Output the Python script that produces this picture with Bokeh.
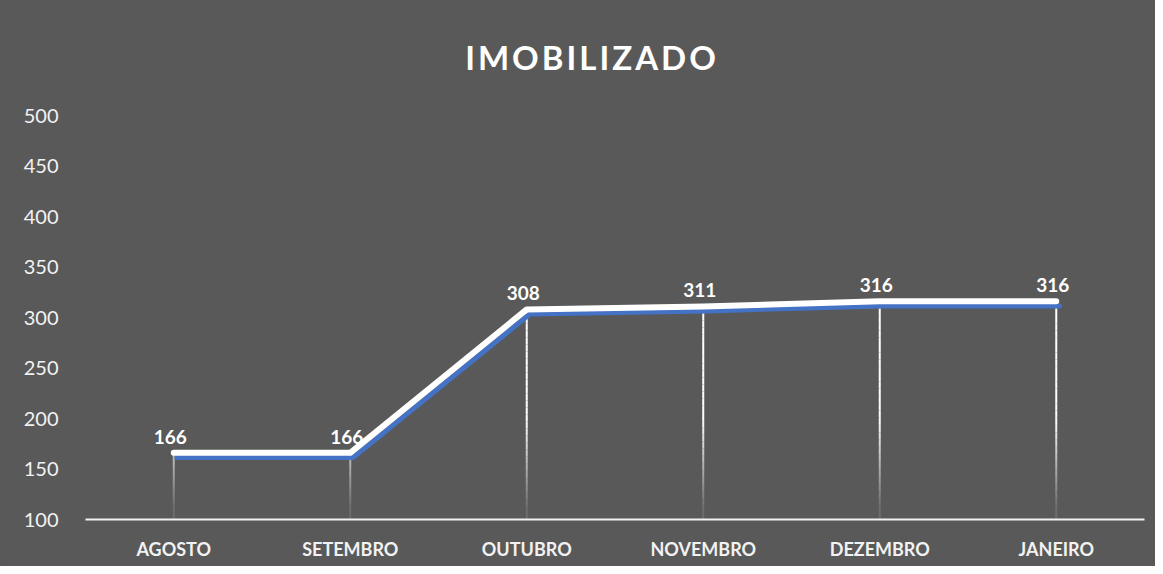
from bokeh.plotting import figure
from bokeh.models import ColumnDataSource, Range1d, FactorRange, Div
from bokeh.layouts import column
from bokeh.transform import dodge
from bokeh.embed import file_html
from bokeh.resources import INLINE
import numpy as np

months = ["AGOSTO", "SETEMBRO", "OUTUBRO", "NOVEMBRO", "DEZEMBRO", "JANEIRO"]
values = [166, 166, 308, 311, 316, 316]
labels = ["166", "166", "308", "311", "316", "316"]
y_ticks = [100, 150, 200, 250, 300, 350, 400, 450, 500]
title_text = "IMOBILIZADO"

BG = "#595959"
BLUE = "#4472C4"
FONT = "Lato"

title = Div(text=title_text, width=1155, height=90, margin=0,
            styles={"background-color": BG, "color": "#ffffff", "font-family": FONT,
                    "font-size": "33px", "font-weight": "bold", "letter-spacing": "3px",
                    "text-align": "center", "text-indent": "29px", "line-height": "114px",
                    "overflow": "hidden"})

p = figure(width=1155, height=476, output_backend="svg", toolbar_location=None,
           x_range=FactorRange(factors=months, range_padding=0),
           y_range=Range1d(100, 500), margin=0,
           min_border_left=85, min_border_right=11, min_border_top=25, min_border_bottom=47)
p.x_range.factor_padding = 0
p.background_fill_color = BG
p.border_fill_color = BG
p.outline_line_color = None
p.grid.visible = False
p.styles = {"background-color": BG}

src = ColumnDataSource(dict(x=months, y=values, lab=labels))

# drop lines with fade toward the axis
base = 100
n = 30
for m, v in zip(months, values):
    edges = np.linspace(base, v, n + 1)
    for i in range(n):
        mid = 0.5 * (edges[i] + edges[i + 1])
        a = float(np.clip((mid - base) / 100.0, 0.12, 1.0))
        p.segment(x0=[m], y0=[edges[i]], x1=[m], y1=[edges[i + 1]],
                  line_color="#ffffff", line_alpha=a, line_width=2)

# blue shadow line
p.line(x=dodge("x", 0.018, range=p.x_range), y=dodge("y", -4.5), source=src,
       line_color=BLUE, line_width=5, line_cap="round", line_join="round")
# white main line
p.line(x="x", y="y", source=src, line_color="#ffffff", line_width=6,
       line_cap="round", line_join="round")

p.text(x=dodge("x", -0.02, range=p.x_range), y="y", text="lab", source=src,
       text_align="center", text_baseline="bottom", y_offset=-9,
       text_color="#ffffff", text_font_size="19px", text_font_style="bold",
       text_font={"value": FONT})

p.yaxis.ticker = y_ticks
p.yaxis.axis_line_color = None
p.yaxis.major_tick_line_color = None
p.yaxis.minor_tick_line_color = None
p.yaxis.major_label_text_color = "#f2f2f2"
p.yaxis.major_label_text_font = FONT
p.yaxis.major_label_text_font_size = "20px"
p.yaxis.major_label_standoff = 21

p.xaxis.axis_line_color = "#f2f2f2"
p.xaxis.axis_line_width = 2
p.xaxis.major_tick_line_color = None
p.xaxis.minor_tick_line_color = None
p.xaxis.major_label_text_color = "#f2f2f2"
p.xaxis.major_label_text_font = FONT
p.xaxis.major_label_text_font_size = "18px"
p.xaxis.major_label_text_font_style = "bold"
p.xaxis.major_label_standoff = 12

layout = column(title, p, spacing=0)
open("out.html", "w").write(file_html(layout, INLINE))
